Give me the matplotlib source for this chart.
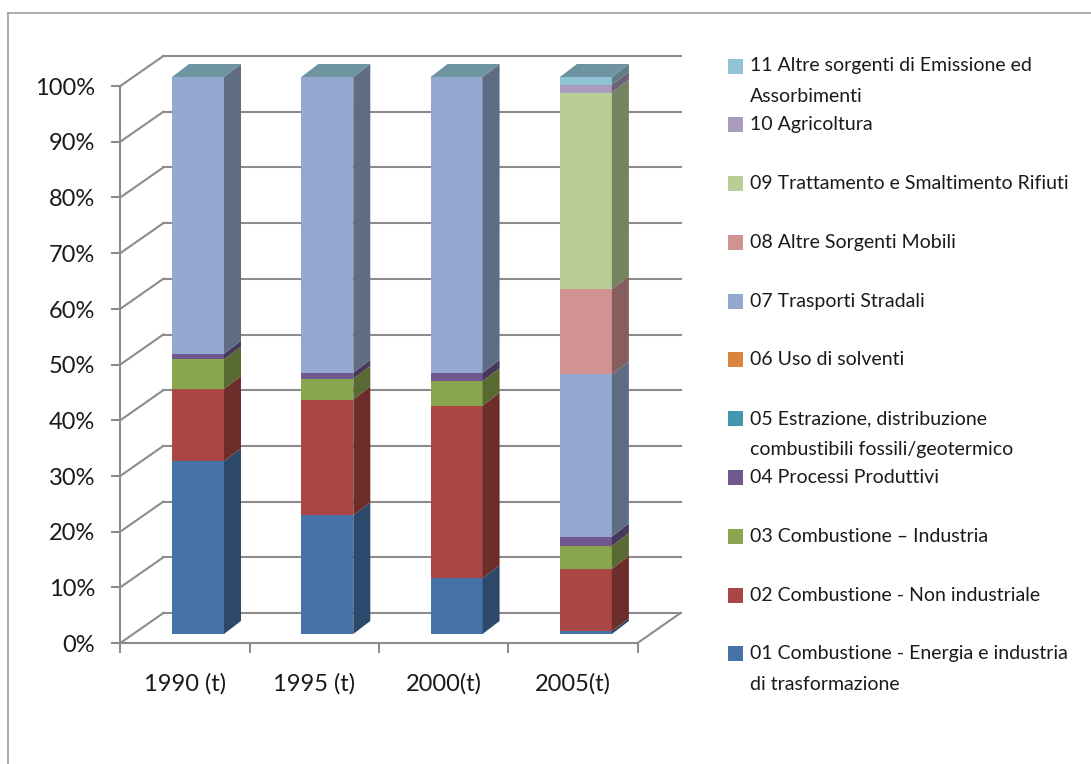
import matplotlib.pyplot as plt
from matplotlib.patches import Polygon, Rectangle
import numpy as np

# --- Data (share of total emissions, %) ---
years = ['1990 (t)', '1995 (t)', '2000(t)', '2005(t)']

s01 = [31.0, 21.3, 10.0, 0.5]
s02 = [13.0, 20.8, 31.0, 11.2]
s03 = [5.3, 3.7, 4.4, 4.1]
s04 = [1.0, 1.1, 1.5, 1.7]
s05 = [0.0, 0.0, 0.0, 0.0]
s06 = [0.0, 0.0, 0.0, 0.0]
s07 = [49.7, 53.1, 53.1, 29.1]
s08 = [0.0, 0.0, 0.0, 15.3]
s09 = [0.0, 0.0, 0.0, 35.3]
s10 = [0.0, 0.0, 0.0, 1.4]
s11 = [0.0, 0.0, 0.0, 1.4]

series_labels = [
    '01 Combustione - Energia e industria\ndi trasformazione',
    '02 Combustione - Non industriale',
    '03 Combustione \u2013 Industria',
    '04 Processi Produttivi',
    '05 Estrazione, distribuzione\ncombustibili fossili/geotermico',
    '06 Uso di solventi',
    '07 Trasporti Stradali',
    '08 Altre Sorgenti Mobili',
    '09 Trattamento e Smaltimento Rifiuti',
    '10 Agricoltura',
    '11 Altre sorgenti di Emissione ed\nAssorbimenti',
]
series_values = [s01, s02, s03, s04, s05, s06, s07, s08, s09, s10, s11]
colors = ['#4572A7', '#AA4643', '#89A54E', '#71588F', '#4198AF', '#DB843D',
          '#93A9CF', '#D19392', '#B9CD96', '#A99BBD', '#91C3D5']

# --- Geometry (pixel sizes turned into data units) ---
W, H = 1091, 764
PX_X = 129.3   # pixels per category
PX_Y = 5.57    # pixels per percent
BAR_W = 0.402
GRID_COLOR = '#8C8C8C'
AXIS_FONT = ['Lato', 'DejaVu Sans']
LEGEND_FONT = ['Lato', 'DejaVu Sans']


def shade(color, k):
    """Darken a colour by factor k."""
    r, g, b = plt.matplotlib.colors.to_rgb(color)
    return (r * k, g * k, b * k)


def fx(x):
    return x / W


def fy(y):
    return 1 - y / H


fig = plt.figure(figsize=(W / 100, H / 100), dpi=100)

# outer chart border (only left and top visible)
fig.add_artist(plt.Line2D([fx(8), fx(8)], [fy(13), 0], color='#A0A0A0', lw=1.2))
fig.add_artist(plt.Line2D([fx(8), 1], [fy(13), fy(13)], color='#A0A0A0', lw=1.2))

# axes region in pixels: x 100..700, y 30..700
ax = fig.add_axes([fx(100), fy(700), fx(600), (700 - 30) / H])
x0 = (100 - 198) / PX_X
ax.set_xlim(x0, x0 + 600 / PX_X)
ax.set_ylim((634 - 700) / PX_Y, (634 - 30) / PX_Y)
ax.axis('off')

# depth offsets
bdx, bdy = 17 / PX_X, 13 / PX_Y           # bar depth
fdx, fdy = -13 / PX_X, -9 / PX_Y          # front plane
wdx, wdy = 30 / PX_X, 21 / PX_Y           # back wall

n = len(years)
xl, xr = -0.5, n - 0.5

# --- Walls, floor and gridlines ---
for k in range(0, 101, 10):
    ax.plot([xl + wdx, xr + wdx], [k + wdy, k + wdy], color=GRID_COLOR, lw=1.5, zorder=1)
    ax.plot([xl + fdx, xl + wdx], [k + fdy, k + wdy], color=GRID_COLOR, lw=1.5, zorder=1)
    ax.plot([xl + fdx - 8 / PX_X, xl + fdx], [k + fdy, k + fdy], color=GRID_COLOR, lw=1.5, zorder=1)
    ax.text(xl + fdx - 25 / PX_X, k + fdy - 0.4, f'{k}%', ha='right', va='center',
            fontsize=17, family=AXIS_FONT, color='#1a1a1a')

ax.plot([xl + fdx, xl + fdx], [fdy, 100 + fdy], color=GRID_COLOR, lw=1.5, zorder=1)
ax.plot([xl + fdx, xr + fdx], [fdy, fdy], color=GRID_COLOR, lw=1.5, zorder=1)
ax.plot([xr + fdx, xr + wdx], [fdy, wdy], color=GRID_COLOR, lw=1.5, zorder=1)
for i in range(n + 1):
    xb = xl + i + fdx
    ax.plot([xb, xb], [fdy, fdy - 9 / PX_Y], color=GRID_COLOR, lw=1.5, zorder=1)

for i, year in enumerate(years):
    ax.text(i + fdx, fdy - 41 / PX_Y, year, ha='center', va='center',
            fontsize=17, family=AXIS_FONT, color='#1a1a1a')

# --- Stacked 3D bars ---
data = np.array(series_values, dtype=float)
data = data / data.sum(axis=0) * 100
bottoms = np.zeros(n)
for s, color in enumerate(colors):
    vals = data[s]
    ax.bar(np.arange(n), vals, bottom=bottoms, width=BAR_W, color=color,
           linewidth=0, zorder=3)
    for i in range(n):
        if vals[i] <= 0:
            continue
        xe = i + BAR_W / 2
        b, t = bottoms[i], bottoms[i] + vals[i]
        side = Polygon([(xe, b), (xe + bdx, b + bdy), (xe + bdx, t + bdy), (xe, t)],
                       closed=True, facecolor=shade(color, 0.64), edgecolor='none', zorder=3)
        ax.add_patch(side)
    bottoms += vals

# top caps
for i in range(n):
    t = bottoms[i]
    cap = Polygon([(i - BAR_W / 2, t), (i + BAR_W / 2, t), (i + BAR_W / 2 + bdx, t + bdy),
                   (i - BAR_W / 2 + bdx, t + bdy)], closed=True,
                  facecolor=shade(colors[-1], 0.76), edgecolor='none', zorder=4)
    ax.add_patch(cap)

# --- Legend (top entry is the last series) ---
y_entry = 66
for label, color in zip(series_labels[::-1], colors[::-1]):
    fig.add_artist(Rectangle((fx(728), fy(y_entry + 7.5)), 15 / W, 15 / H,
                             facecolor=color, edgecolor='none'))
    for j, line in enumerate(label.split('\n')):
        fig.text(fx(750), fy(y_entry + 31 * j), line, ha='left', va='center',
                 fontsize=14, family=LEGEND_FONT, color='#1a1a1a')
    y_entry += 58.8

fig.savefig('out.png', dpi=100)
